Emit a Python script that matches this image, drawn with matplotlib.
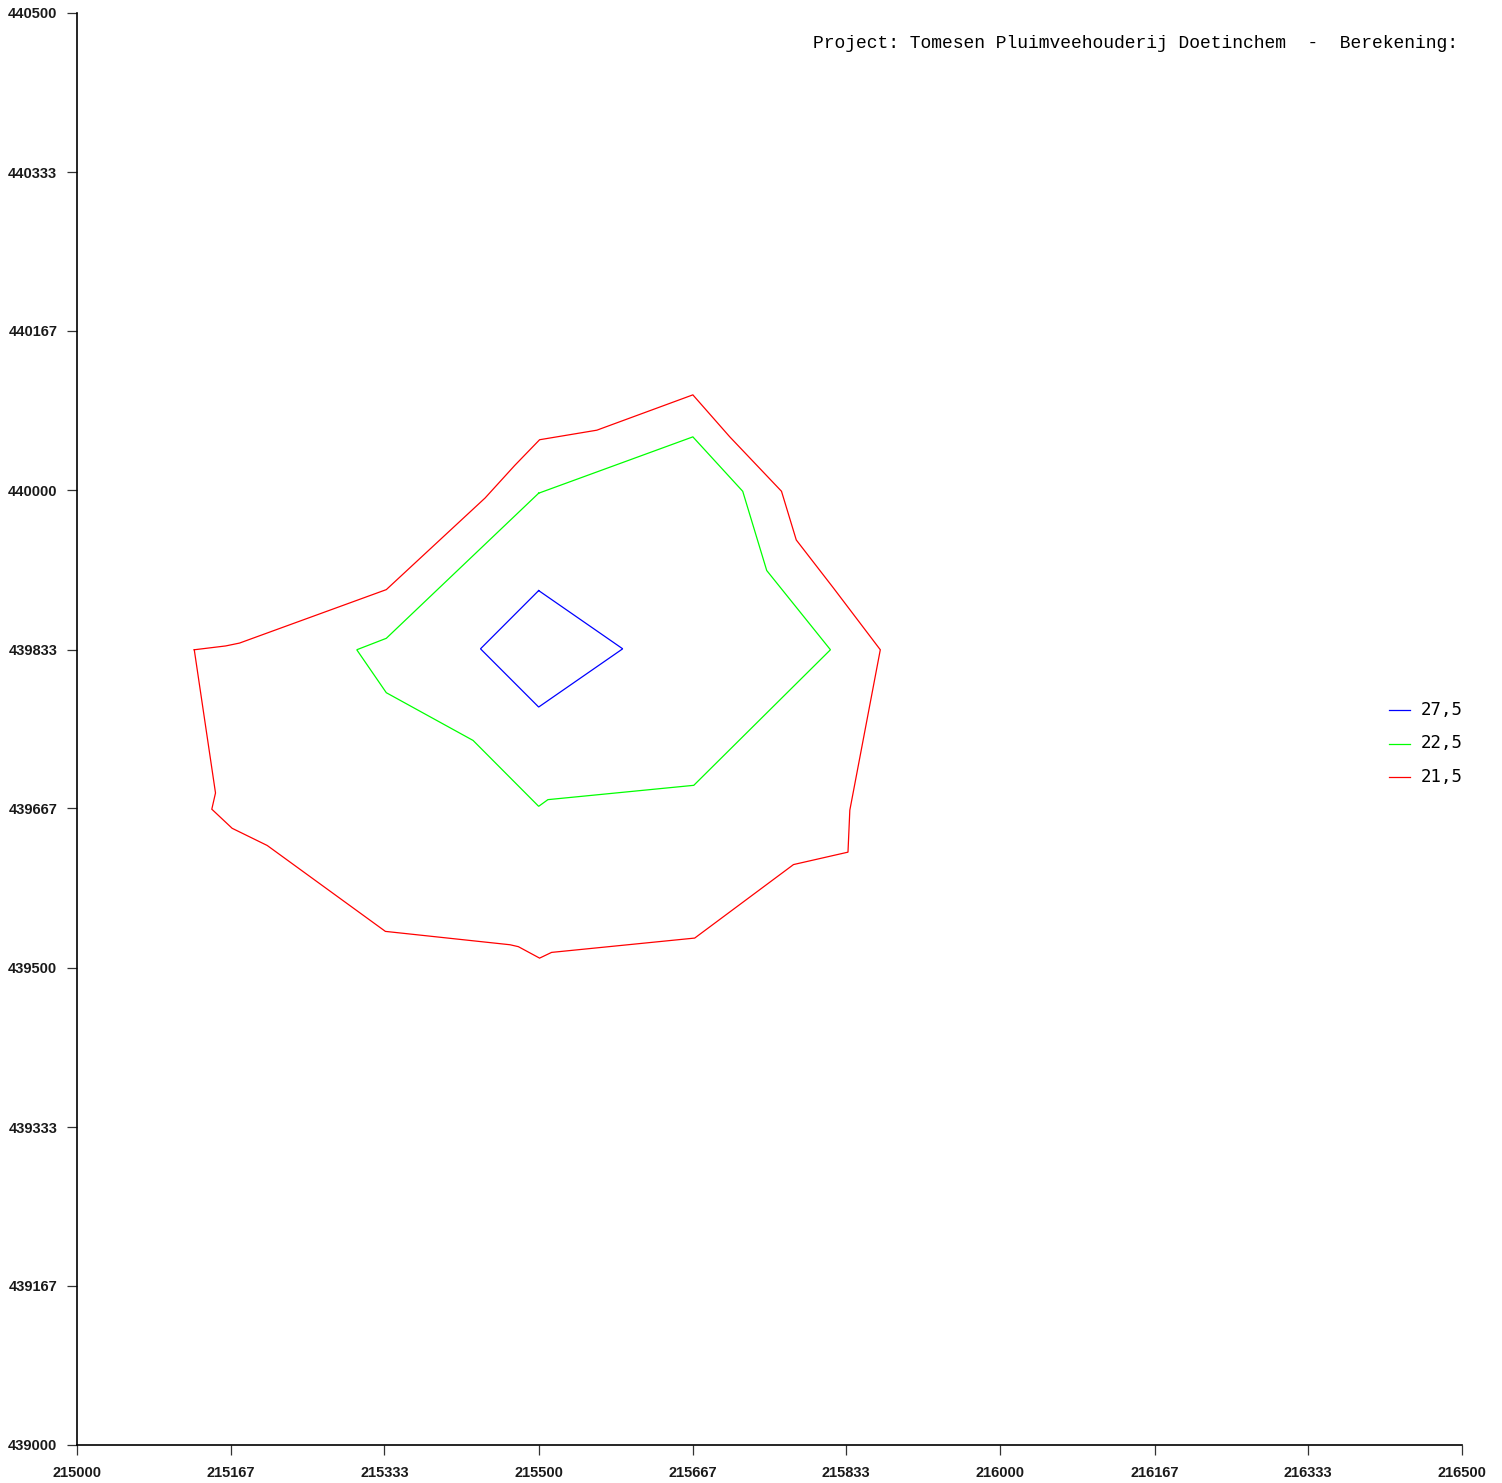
import matplotlib
matplotlib.use("Agg")
import matplotlib.pyplot as plt
from matplotlib.lines import Line2D

# contour levels and their outlines (RD coordinates)
levels = ["27,5", "22,5", "21,5"]
colors = ["#0000ff", "#00ff00", "#ff0000"]

blue_x = [215500, 215591, 215500, 215437]
blue_y = [439895, 439834, 439773, 439834]

green_x = [215500, 215667, 215721, 215747, 215816, 215668, 215510, 215500,
           215429, 215335, 215303, 215335]
green_y = [439997, 440056, 439999, 439916, 439833, 439691, 439676, 439669,
           439738, 439788, 439833, 439845]

red_x = [215127, 215161, 215176, 215335, 215442, 215474, 215501, 215563,
         215667, 215707, 215763, 215779, 215819, 215870, 215837,
         215835, 215776, 215669, 215514, 215501, 215478, 215469, 215334,
         215206, 215168, 215146, 215150]
red_y = [439833, 439837, 439840, 439896, 439992, 440026, 440053, 440063,
         440100, 440056, 439999, 439948, 439898, 439833, 439665,
         439621, 439608, 439531, 439516, 439510, 439522, 439524, 439538,
         439628, 439646, 439666, 439683]

xticks = [215000, 215167, 215333, 215500, 215667, 215833, 216000, 216167, 216333, 216500]
yticks = [439000, 439167, 439333, 439500, 439667, 439833, 440000, 440167, 440333, 440500]

title = "Project: Tomesen Pluimveehouderij Doetinchem  -  Berekening:"

W, H = 1502, 1483
fig = plt.figure(figsize=(W / 100, H / 100), dpi=100)
ax = fig.add_axes([77 / W, (H - 1445) / H, 1385 / W, 1432 / H])

shapes = [(blue_x, blue_y), (green_x, green_y), (red_x, red_y)]
for (xs, ys), c in zip(shapes, colors):
    ax.plot(xs + xs[:1], ys + ys[:1], color=c, lw=0.9, solid_joinstyle="miter")

ax.set_xlim(215000, 216500)
ax.set_ylim(439000, 440500)
ax.set_xticks(xticks)
ax.set_yticks(yticks)
ax.set_xticklabels([str(v) for v in xticks])
ax.set_yticklabels([str(v) for v in yticks])
for lab in ax.get_xticklabels() + ax.get_yticklabels():
    lab.set_fontfamily("Liberation Sans")
    lab.set_fontweight("bold")
    lab.set_fontsize(10.5)
    lab.set_color("#1a1a1a")

ax.spines["top"].set_visible(False)
ax.spines["right"].set_visible(False)
ax.spines["left"].set_linewidth(1.2)
ax.spines["bottom"].set_linewidth(1.2)
ax.tick_params(axis="both", direction="out", length=7.2, width=0.9, color="#333333")
ax.tick_params(axis="y", pad=7)
ax.tick_params(axis="x", pad=8)

fig.text(1458 / W, 1 - 43 / H, title, ha="right", va="center",
         family="Liberation Mono", fontsize=13, color="black")

# legend drawn at fixed figure positions
for i, (lev, c) in enumerate(zip(levels, colors)):
    yy = 1 - (710 + i * 33.5) / H
    fig.add_artist(Line2D([1389 / W, 1410 / W], [yy, yy], color=c, lw=0.9,
                          transform=fig.transFigure))
    fig.text(1421 / W, yy, lev, ha="left", va="center",
             family="DejaVu Sans Mono", fontsize=12.5, color="black")

fig.savefig("out.png", dpi=100)
